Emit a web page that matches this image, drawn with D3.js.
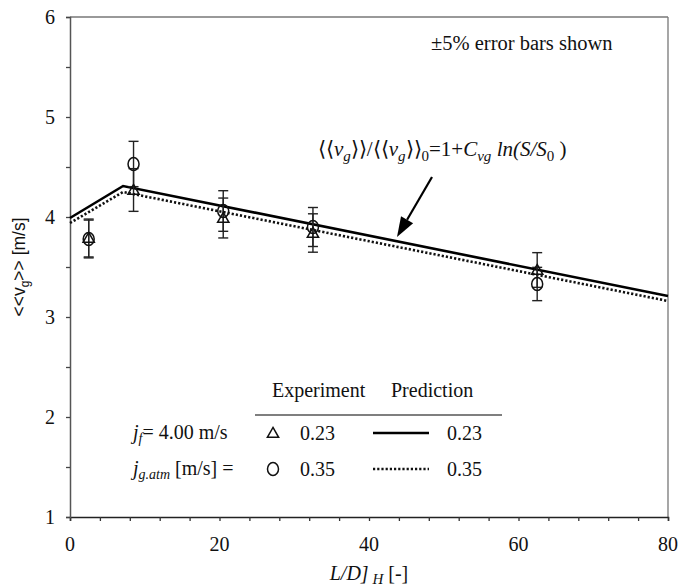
<!DOCTYPE html>
<html>
<head>
<meta charset="utf-8">
<script src="https://cdn.jsdelivr.net/npm/d3@7"></script>
<style>
  html, body { margin: 0; padding: 0; background: #fff; }
  svg { display: block; }
</style>
</head>
<body>
<svg id="chart" width="678" height="587"></svg>
<script>
// Measured gas velocity at five axial stations, two gas flow rates
const stationLD = [2.5, 8.5, 20.5, 32.5, 62.5];
const vgLow = [3.79, 4.27, 3.99, 3.84, 3.47];   // j_g,atm = 0.23 m/s
const vgHigh = [3.78, 4.53, 4.06, 3.90, 3.33];  // j_g,atm = 0.35 m/s
const errorFraction = 0.05;

// Model prediction curves
const predLD = [0, 7.1, 80];
const predLow = [3.99, 4.31, 3.21];
const predHigh = [3.94, 4.25, 3.16];

const xTicks = [0, 20, 40, 60, 80];
const yTicks = [1, 2, 3, 4, 5, 6];
const legendLabels = ["0.23", "0.35"];

const SERIF = "Liberation Serif";

const svg = d3.select("#chart").attr("fill", "#111");
const x = d3.scaleLinear().domain([0, 80]).range([70, 668]);
const y = d3.scaleLinear().domain([1, 6]).range([517, 17]);

// serif text helper
function txt(parent, size) {
  return parent.append("text").style("font-family", SERIF).attr("font-size", size);
}

// frame: top and right borders
svg.append("line").attr("x1", x(0)).attr("x2", x(80)).attr("y1", y(6)).attr("y2", y(6))
  .attr("stroke", "#777").attr("stroke-width", 1.3);
svg.append("line").attr("x1", x(80)).attr("x2", x(80)).attr("y1", y(6)).attr("y2", y(1))
  .attr("stroke", "#777").attr("stroke-width", 1.3);

// x axis
const xAxis = svg.append("g").attr("transform", `translate(0,${y(1)})`)
  .call(d3.axisBottom(x).tickValues(d3.range(0, 81, 4)).tickSize(4).tickFormat(""));
xAxis.select(".domain").attr("stroke", "#222").attr("stroke-width", 1.5);
xAxis.selectAll(".tick line").attr("stroke", "#333").attr("stroke-width", 1.3);
xTicks.forEach(d => txt(svg, 20).attr("x", x(d)).attr("y", y(1) + 34).attr("text-anchor", "middle").text(d));

// y axis
const yAxis = svg.append("g").attr("transform", `translate(${x(0)},0)`)
  .call(d3.axisLeft(y).tickValues(d3.range(1, 6.01, 0.5)).tickSize(4).tickFormat(""));
yAxis.select(".domain").attr("stroke", "#555").attr("stroke-width", 1.5);
yAxis.selectAll(".tick line").attr("stroke", "#444").attr("stroke-width", 1.3);
yTicks.forEach(d => txt(svg, 20).attr("x", x(0) - 15).attr("y", y(d) + 7).attr("text-anchor", "end").text(d));

// axis titles
const yt = svg.append("text").attr("transform", "translate(25,267) rotate(-90)")
  .attr("text-anchor", "middle")
  .style("font-family", "Liberation Sans")
  .attr("font-size", 17.5);
yt.append("tspan").text("<<v");
yt.append("tspan").attr("font-size", 12).attr("dy", 4).text("g");
yt.append("tspan").attr("dy", -4).text(">> [m/s]");

const xt = txt(svg, 20).attr("x", 369).attr("y", 580).attr("text-anchor", "middle");
xt.append("tspan").attr("font-style", "italic").text("L/D]");
xt.append("tspan").attr("font-style", "italic").attr("font-size", 15).attr("dy", 4).text(" H");
xt.append("tspan").attr("dy", -4).text(" [-]");

// prediction lines
const line = d3.line().x(d => x(d[0])).y(d => y(d[1]));
svg.append("path").datum(predLD.map((d, i) => [d, predHigh[i]])).attr("d", line)
  .attr("fill", "none").attr("stroke", "#111").attr("stroke-width", 2.6).attr("stroke-dasharray", "2.2,2");
svg.append("path").datum(predLD.map((d, i) => [d, predLow[i]])).attr("d", line)
  .attr("fill", "none").attr("stroke", "#000").attr("stroke-width", 2.6);

// error bars
function errorBars(vals) {
  const g = svg.append("g").attr("stroke", "#222").attr("stroke-width", 1.4);
  vals.forEach((v, i) => {
    const cx = x(stationLD[i]);
    const lo = y(v * (1 - errorFraction)), hi = y(v * (1 + errorFraction));
    g.append("line").attr("x1", cx).attr("x2", cx).attr("y1", lo).attr("y2", hi);
    g.append("line").attr("x1", cx - 5).attr("x2", cx + 5).attr("y1", lo).attr("y2", lo);
    g.append("line").attr("x1", cx - 5).attr("x2", cx + 5).attr("y1", hi).attr("y2", hi);
  });
}
errorBars(vgLow);
errorBars(vgHigh);

// markers
const tri = d3.symbol().type(d3.symbolTriangle).size(55);
svg.append("g").selectAll("path").data(vgLow).join("path")
  .attr("transform", (d, i) => `translate(${x(stationLD[i])},${y(d) + 1})`)
  .attr("d", tri).attr("fill", "none").attr("stroke", "#111").attr("stroke-width", 1.5);
svg.append("g").selectAll("ellipse").data(vgHigh).join("ellipse")
  .attr("cx", (d, i) => x(stationLD[i])).attr("cy", d => y(d))
  .attr("rx", 5.5).attr("ry", 6.5).attr("fill", "none").attr("stroke", "#111").attr("stroke-width", 1.5);

// note
txt(svg, 20.5).attr("x", 431).attr("y", 50).text("±5% error bars shown");

// formula annotation
const ft = txt(svg, 21).attr("x", 318).attr("y", 156);
ft.append("tspan").text("⟨⟨");
ft.append("tspan").attr("font-style", "italic").text("v");
ft.append("tspan").attr("font-style", "italic").attr("font-size", 15).attr("dy", 5).text("g");
ft.append("tspan").attr("dy", -5).text("⟩⟩/⟨⟨");
ft.append("tspan").attr("font-style", "italic").text("v");
ft.append("tspan").attr("font-style", "italic").attr("font-size", 15).attr("dy", 5).text("g");
ft.append("tspan").attr("dy", -5).text("⟩⟩");
ft.append("tspan").attr("font-size", 15).attr("dy", 5).text("0");
ft.append("tspan").attr("dy", -5).text("=1+");
ft.append("tspan").attr("font-style", "italic").text("C");
ft.append("tspan").attr("font-style", "italic").attr("font-size", 15).attr("dy", 5).text("vg");
ft.append("tspan").attr("font-style", "italic").attr("dy", -5).text(" ln(S/S");
ft.append("tspan").attr("font-size", 15).attr("dy", 5).text("0");
ft.append("tspan").attr("dy", -5).text(" )");

// arrow pointing at the prediction line
const ax1 = 432, ay1 = 177, ax2 = 397, ay2 = 237;
const ang = Math.atan2(ay2 - ay1, ax2 - ax1);
const headLen = 20, headW = 7;
const bx = ax2 - headLen * Math.cos(ang), by = ay2 - headLen * Math.sin(ang);
svg.append("line").attr("x1", ax1).attr("y1", ay1).attr("x2", bx).attr("y2", by)
  .attr("stroke", "#000").attr("stroke-width", 2.2);
svg.append("path").attr("d", `M${ax2},${ay2} L${bx + headW * Math.sin(ang)},${by - headW * Math.cos(ang)} L${bx - headW * Math.sin(ang)},${by + headW * Math.cos(ang)} Z`)
  .attr("fill", "#000");

// legend
const lg = svg.append("g");
txt(lg, 20).attr("x", 272).attr("y", 397).text("Experiment");
txt(lg, 20).attr("x", 391).attr("y", 397).text("Prediction");
lg.append("line").attr("x1", 255).attr("x2", 502).attr("y1", 415).attr("y2", 415)
  .attr("stroke", "#555").attr("stroke-width", 1.3);

const jf = txt(lg, 20).attr("x", 133).attr("y", 439);
jf.append("tspan").attr("font-style", "italic").text("j");
jf.append("tspan").attr("font-style", "italic").attr("font-size", 14).attr("dy", 4).text("f");
jf.append("tspan").attr("dy", -4).text("= 4.00 m/s");
const jg = txt(lg, 20).attr("x", 133).attr("y", 475);
jg.append("tspan").attr("font-style", "italic").text("j");
jg.append("tspan").attr("font-style", "italic").attr("font-size", 14).attr("dy", 4).text("g.atm");
jg.append("tspan").attr("dy", -4).text(" [m/s] =");

const rowY = [433, 469];
lg.append("path").attr("transform", `translate(273,${rowY[0] + 1})`).attr("d", tri)
  .attr("fill", "none").attr("stroke", "#111").attr("stroke-width", 1.5);
lg.append("ellipse").attr("cx", 273).attr("cy", rowY[1]).attr("rx", 5.5).attr("ry", 6.5)
  .attr("fill", "none").attr("stroke", "#111").attr("stroke-width", 1.5);
lg.append("line").attr("x1", 373).attr("x2", 429).attr("y1", rowY[0]).attr("y2", rowY[0])
  .attr("stroke", "#000").attr("stroke-width", 2.6);
lg.append("line").attr("x1", 373).attr("x2", 429).attr("y1", rowY[1]).attr("y2", rowY[1])
  .attr("stroke", "#111").attr("stroke-width", 2.6).attr("stroke-dasharray", "2.2,2");
legendLabels.forEach((t, i) => {
  txt(lg, 20).attr("x", 300).attr("y", rowY[i] + 7).text(t);
  txt(lg, 20).attr("x", 447).attr("y", rowY[i] + 7).text(t);
});
</script>
</body>
</html>
